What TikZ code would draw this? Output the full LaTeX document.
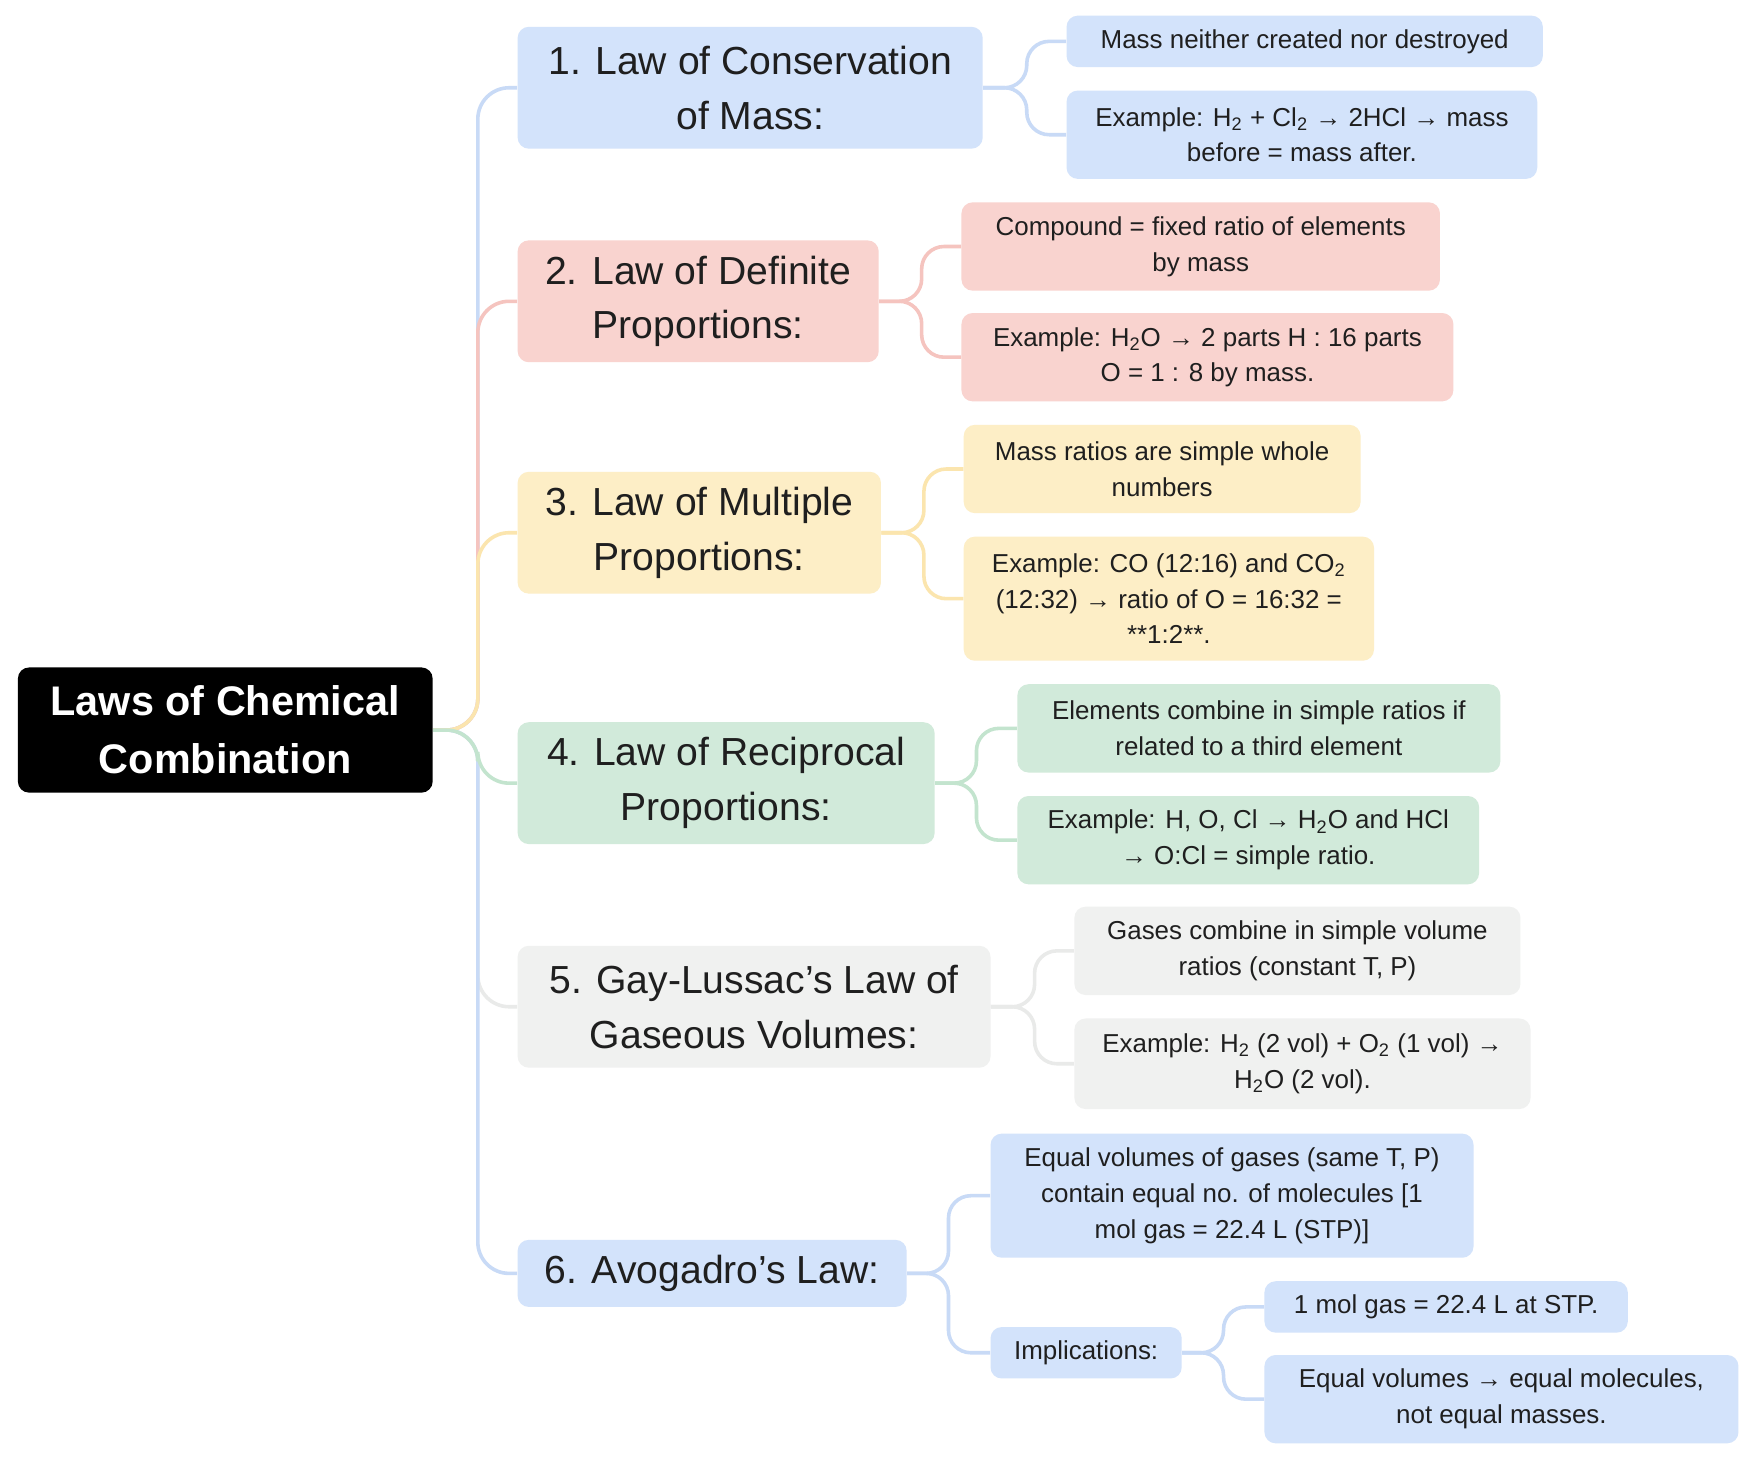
\documentclass[tikz,border=0pt]{standalone}
\usepackage{fontspec}
\setmainfont{Liberation Sans}
\begin{document}
\begin{tikzpicture}[x=0.5pt,y=-0.5pt,
 box/.style={draw=none,rounded corners=5pt,inner sep=0pt,align=center,text=black!88},
 topic/.style={box,font=\fontsize{17.5}{24.5}\selectfont},
 sub/.style={box,font=\fontsize{11.6}{16}\selectfont},
 con/.style={line width=1.6pt,rounded corners=10pt}]
\definecolor{cb}{HTML}{D3E3FB}\definecolor{lb}{HTML}{C8DAF6}
\definecolor{cr}{HTML}{F9D3CF}\definecolor{lr}{HTML}{F5C4BF}
\definecolor{cy}{HTML}{FDEEC6}\definecolor{ly}{HTML}{FBE5AE}
\definecolor{cg}{HTML}{D1EADA}\definecolor{lg}{HTML}{C3E4CE}
\definecolor{cw}{HTML}{F0F1F0}\definecolor{lw}{HTML}{E9EAE9}
\useasboundingbox[fill=white] (0,0) rectangle (1568,1305);
\node[box,fill=black,text=white,font=\bfseries\fontsize{18.5}{26}\selectfont,minimum width=185.5pt,minimum height=56pt] (root) at (201.5,653) {Laws of Chemical\\Combination};
\node[topic,fill=cb,minimum width=208pt,minimum height=54.5pt] (T1) at (671,78.5) {1. Law of Conservation\\of Mass:};
\node[topic,fill=cr,minimum width=161.5pt,minimum height=54.5pt] (T2) at (624.5,269.5) {2. Law of Definite\\Proportions:};
\node[topic,fill=cy,minimum width=162.5pt,minimum height=54.5pt] (T3) at (625.5,476.5) {3. Law of Multiple\\Proportions:};
\node[topic,fill=cg,minimum width=186.5pt,minimum height=54.5pt] (T4) at (649.5,700.5) {4. Law of Reciprocal\\Proportions:};
\node[topic,fill=cw,minimum width=211.5pt,minimum height=54.5pt] (T5) at (674.5,900.5) {5. Gay-Lussac’s Law of\\Gaseous Volumes:};
\node[topic,fill=cb,minimum width=174pt,minimum height=30pt] (T6) at (637,1139) {6. Avogadro’s Law:};
\node[sub,fill=cb,minimum width=213pt,minimum height=23pt] (s1a) at (1167,37) {Mass neither created nor destroyed};
\node[sub,fill=cb,minimum width=210.5pt,minimum height=39.5pt] (s1b) at (1164.5,120.5) {Example: H\textsubscript{2} + Cl\textsubscript{2} → 2HCl → mass\\before = mass after.};
\node[sub,fill=cr,minimum width=214pt,minimum height=39.5pt] (s2a) at (1074,220.5) {Compound = fixed ratio of elements\\by mass};
\node[sub,fill=cr,minimum width=220pt,minimum height=39.5pt] (s2b) at (1080,319.5) {Example: H\textsubscript{2}O → 2 parts H : 16 parts\\O = 1 : 8 by mass.};
\node[sub,fill=cy,minimum width=177.5pt,minimum height=39.5pt] (s3a) at (1039.5,419.5) {Mass ratios are simple whole\\numbers};
\node[sub,fill=cy,minimum width=183.5pt,minimum height=55.5pt] (s3b) at (1045.5,535.5) {Example: CO (12:16) and CO\textsubscript{2}\\(12:32) → ratio of O = 16:32 =\\**1:2**.};
\node[sub,fill=cg,minimum width=216pt,minimum height=39.5pt] (s4a) at (1126,651.5) {Elements combine in simple ratios if\\related to a third element};
\node[sub,fill=cg,minimum width=206.5pt,minimum height=39.5pt] (s4b) at (1116.5,751.5) {Example: H, O, Cl → H\textsubscript{2}O and HCl\\→ O:Cl = simple ratio.};
\node[sub,fill=cw,minimum width=199.5pt,minimum height=39.5pt] (s5a) at (1160.5,850.5) {Gases combine in simple volume\\ratios (constant T, P)};
\node[sub,fill=cw,minimum width=204pt,minimum height=40.5pt] (s5b) at (1165,951.5) {Example: H\textsubscript{2} (2 vol) + O\textsubscript{2} (1 vol) →\\H\textsubscript{2}O (2 vol).};
\node[sub,fill=cb,minimum width=216pt,minimum height=55.5pt] (s6a) at (1102,1069.5) {Equal volumes of gases (same T, P)\\contain equal no. of molecules [1\\mol gas = 22.4 L (STP)]};
\node[sub,fill=cb,minimum width=85.5pt,minimum height=23pt] (s6b) at (971.5,1210) {Implications:};
\node[sub,fill=cb,minimum width=162.5pt,minimum height=23pt] (s6c) at (1293.5,1169) {1 mol gas = 22.4 L at STP.};
\node[sub,fill=cb,minimum width=212pt,minimum height=39.5pt] (s6d) at (1343,1251.5) {Equal volumes → equal molecules,\\not equal masses.};
\begin{scope}[on background layer/.style={}]
\end{scope}
\begin{pgfonlayer}{main}\end{pgfonlayer}
\draw[con,lw,rounded corners=14pt] (root.east) -- ++(40,0) |- (T5.west);
\draw[con,lb,rounded corners=14pt] (root.east) -- ++(40,0) |- (T6.west);
\draw[con,lb,rounded corners=14pt] (root.east) -- ++(40,0) |- (T1.west);
\draw[con,lr,rounded corners=14pt] (root.east) -- ++(40,0) |- (T2.west);
\draw[con,ly,rounded corners=14pt] (root.east) -- ++(40,0) |- (T3.west);
\draw[con,lg,rounded corners=14pt] (root.east) -- ++(40,0) |- (T4.west);
\draw[con,lb] (T1.east) -- ++(39,0) |- (s1a.west);
\draw[con,lb] (T1.east) -- ++(39,0) |- (s1b.west);
\draw[con,lr] (T2.east) -- ++(38,0) |- (s2a.west);
\draw[con,lr] (T2.east) -- ++(38,0) |- (s2b.west);
\draw[con,ly] (T3.east) -- ++(38,0) |- (s3a.west);
\draw[con,ly] (T3.east) -- ++(38,0) |- (s3b.west);
\draw[con,lg] (T4.east) -- ++(37,0) |- (s4a.west);
\draw[con,lg] (T4.east) -- ++(37,0) |- (s4b.west);
\draw[con,lw] (T5.east) -- ++(39,0) |- (s5a.west);
\draw[con,lw] (T5.east) -- ++(39,0) |- (s5b.west);
\draw[con,lb] (T6.east) -- ++(37,0) |- (s6a.west);
\draw[con,lb] (T6.east) -- ++(37,0) |- (s6b.west);
\draw[con,lb] (s6b.east) -- ++(37,0) |- (s6c.west);
\draw[con,lb] (s6b.east) -- ++(37,0) |- (s6d.west);
\end{tikzpicture}
\end{document}
